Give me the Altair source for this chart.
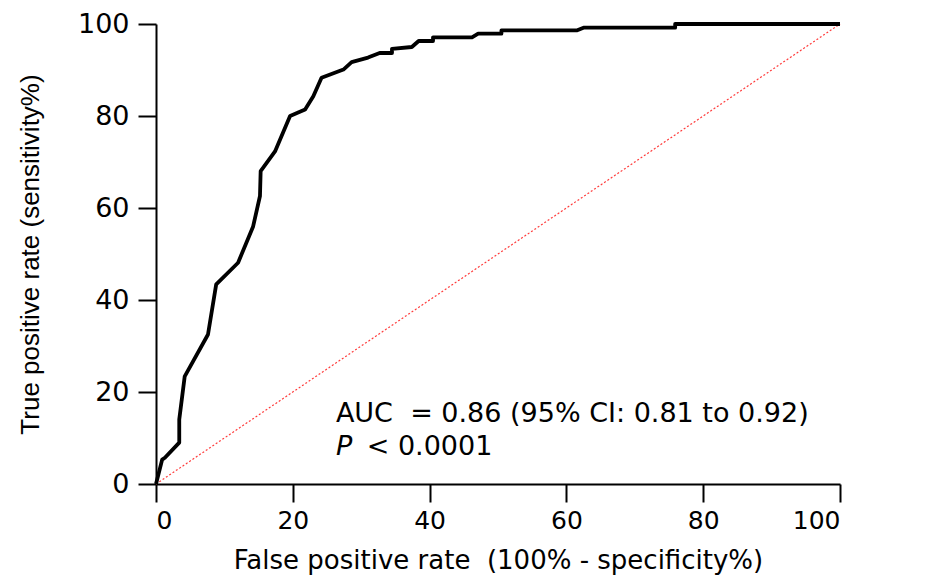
import altair as alt
import pandas as pd

# ROC curve (false positive rate %, true positive rate %)
fpr = [0, 0.9, 1.3, 3.4, 3.4, 4.2, 7.6, 8.8, 12.0, 14.2, 15.2, 15.3, 17.4, 19.6,
       21.8, 23.0, 24.2, 27.4, 28.6, 31.0, 32.7, 34.5, 34.5, 37.4, 38.4, 40.5,
       40.5, 46.2, 47.1, 50.5, 50.5, 61.5, 62.5, 75.9, 75.9, 100]
tpr = [0, 5.3, 5.7, 9.0, 14.0, 23.4, 32.5, 43.4, 48.1, 56.0, 62.6, 68.0, 72.3, 80.0,
       81.4, 84.3, 88.3, 90.1, 91.7, 92.7, 93.7, 93.7, 94.6, 95.0, 96.3, 96.3,
       97.1, 97.1, 97.9, 97.9, 98.6, 98.6, 99.2, 99.2, 100, 100]

diag_x = [0, 100]
diag_y = [0, 100]

tick_values = [0, 20, 40, 60, 80, 100]

auc_text = "AUC\u00a0\u00a0= 0.86 (95% CI: 0.81 to 0.92)"
p_label = "P"
p_text = "< 0.0001"

roc = pd.DataFrame({"fpr": fpr, "tpr": tpr, "order": list(range(len(fpr)))})
diag = pd.DataFrame({"fpr": diag_x, "tpr": diag_y})

xscale = alt.Scale(domain=[0, 100], nice=False, zero=False)
yscale = alt.Scale(domain=[0, 100], nice=False, zero=False)

x_axis = alt.Axis(
    values=tick_values, grid=False, domainColor="black", domainWidth=2,
    tickColor="black", tickWidth=2, tickSize=18, labelPadding=6,
    labelFont="DejaVu Sans", labelFontSize=25, labelColor="black",
    title="False positive rate\u00a0\u00a0(100% - specificity%)",
    titleFont="DejaVu Sans", titleFontSize=26, titleFontWeight="normal",
    titleColor="black", titleBaseline="alphabetic", titleY=84,
)
y_axis = alt.Axis(
    values=tick_values, grid=False, domainColor="black", domainWidth=2,
    tickColor="black", tickWidth=2, tickSize=18, labelPadding=9,
    labelFont="DejaVu Sans", labelFontSize=27, labelColor="black",
    title="True positive rate (sensitivity%)",
    titleFont="Liberation Sans", titleFontSize=26, titleFontWeight="normal",
    titleColor="black",
    titleAngle=-90, titleAlign="center", titleBaseline="alphabetic",
    titleX=-118, titleY=230,
)

diag_line = alt.Chart(diag).mark_line(
    color="#ff3b3b", strokeWidth=1.2, strokeDash=[2, 2]
).encode(
    x=alt.X("fpr:Q", scale=xscale, axis=x_axis),
    y=alt.Y("tpr:Q", scale=yscale, axis=y_axis),
)

roc_line = alt.Chart(roc).mark_line(
    color="black", strokeWidth=3.8, strokeJoin="round"
).encode(
    x=alt.X("fpr:Q", scale=xscale),
    y=alt.Y("tpr:Q", scale=yscale),
    order="order:Q",
)

ann1 = alt.Chart(pd.DataFrame({"x": [26.3], "y": [13.4], "t": [auc_text]})).mark_text(
    align="left", baseline="alphabetic", font="DejaVu Sans", fontSize=27, color="black"
).encode(x=alt.X("x:Q", scale=xscale), y=alt.Y("y:Q", scale=yscale), text="t:N")

ann2 = alt.Chart(pd.DataFrame({"x": [26.3], "y": [6.2], "t": [p_label]})).mark_text(
    align="left", baseline="alphabetic", font="DejaVu Sans", fontSize=27,
    fontStyle="italic", color="black"
).encode(x=alt.X("x:Q", scale=xscale), y=alt.Y("y:Q", scale=yscale), text="t:N")

ann3 = alt.Chart(pd.DataFrame({"x": [30.8], "y": [6.2], "t": [p_text]})).mark_text(
    align="left", baseline="alphabetic", font="DejaVu Sans", fontSize=27, color="black"
).encode(x=alt.X("x:Q", scale=xscale), y=alt.Y("y:Q", scale=yscale), text="t:N")

chart = alt.layer(diag_line, roc_line, ann1, ann2, ann3).properties(
    width=684, height=460,
    autosize=alt.AutoSizeParams(type="none"),
    padding={"left": 156, "top": 24, "right": 88, "bottom": 92},
    background="white",
).configure_view(stroke=None)

chart.save("out.html", embed_options={"renderer": "svg", "actions": False})
